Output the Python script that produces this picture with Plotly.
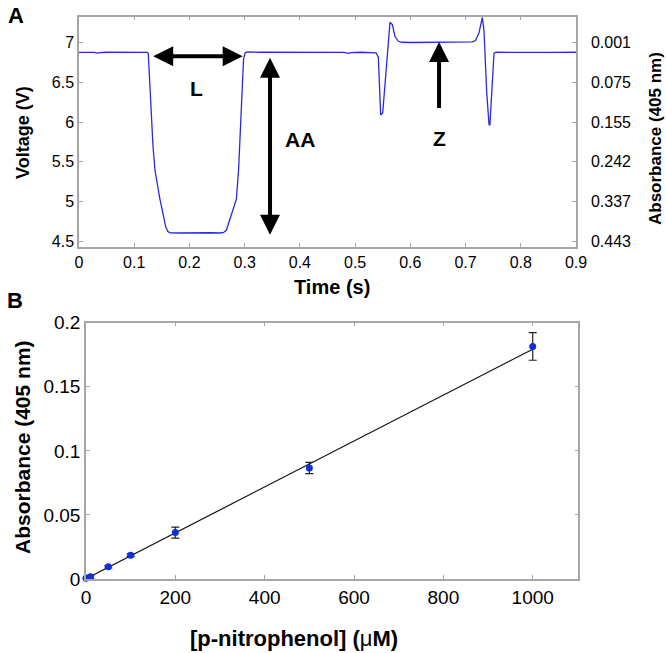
import plotly.graph_objects as go

# ---------------- Panel A data ----------------
time_s = [0.000, 0.010, 0.020, 0.028, 0.033, 0.038, 0.050, 0.070, 0.090, 0.110, 0.124,
          0.1255, 0.128, 0.131, 0.134, 0.1375, 0.141, 0.146, 0.152, 0.157, 0.161, 0.165,
          0.180, 0.200, 0.220, 0.240, 0.255, 0.262, 0.267, 0.273, 0.279, 0.285, 0.289,
          0.292, 0.295, 0.298, 0.301, 0.305, 0.330, 0.360, 0.390, 0.420, 0.450, 0.480,
          0.487, 0.493, 0.510, 0.530, 0.538, 0.542, 0.5463, 0.550, 0.553, 0.557, 0.560,
          0.5632, 0.5674, 0.5722, 0.5783, 0.585, 0.600, 0.620, 0.640, 0.660, 0.680, 0.700,
          0.712, 0.718, 0.724, 0.7304, 0.7334, 0.7383, 0.7425, 0.7440, 0.7473, 0.7515,
          0.755, 0.780, 0.800, 0.830, 0.860, 0.900]
voltage_v = [6.880, 6.883, 6.882, 6.880, 6.870, 6.878, 6.882, 6.881, 6.883, 6.882, 6.880,
             6.860, 6.500, 6.000, 5.700, 5.400, 5.250, 5.050, 4.850, 4.680, 4.620, 4.605,
             4.603, 4.607, 4.604, 4.606, 4.603, 4.610, 4.640, 4.780, 4.900, 5.030, 5.400,
             5.900, 6.400, 6.800, 6.875, 6.885, 6.882, 6.880, 6.883, 6.881, 6.882, 6.880,
             6.868, 6.878, 6.882, 6.880, 6.875, 6.820, 6.090, 6.120, 6.400, 6.700, 7.050,
             7.260, 7.230, 7.080, 7.020, 7.008, 7.005, 7.006, 7.004, 7.007, 7.005, 7.008,
             7.012, 7.030, 7.120, 7.320, 7.150, 6.370, 5.970, 5.960, 6.410, 6.870,
             6.882, 6.880, 6.883, 6.881, 6.880, 6.882]

voltage_ticks = [4.5, 5, 5.5, 6, 6.5, 7]
absorbance_tick_labels = ["0.443", "0.337", "0.242", "0.155", "0.075", "0.001"]

# ---------------- Panel B data ----------------
conc_uM = [0, 10, 50, 100, 200, 500, 1000]
absorb = [0.0005, 0.0018, 0.0095, 0.0185, 0.0362, 0.0866, 0.1815]
absorb_err = [0.0012, 0.0012, 0.0009, 0.0011, 0.0043, 0.0044, 0.0108]
fit_x = [0, 1000]
fit_y = [0.0002, 0.1793]

FONT = "Arial, Liberation Sans, sans-serif"
AXC = "#a6a6a6"

fig = go.Figure()

fig.add_trace(go.Scatter(x=time_s, y=voltage_v, mode="lines",
                         line=dict(color="#2a2ad8", width=1.3),
                         xaxis="x", yaxis="y", showlegend=False))
# invisible trace to anchor the right (absorbance) axis
fig.add_trace(go.Scatter(x=[time_s[0]], y=[voltage_v[0]], mode="markers",
                         marker=dict(opacity=0), xaxis="x", yaxis="y3",
                         showlegend=False, hoverinfo="skip"))

fig.add_trace(go.Scatter(x=fit_x, y=fit_y, mode="lines",
                         line=dict(color="#111111", width=1.2),
                         xaxis="x2", yaxis="y2", showlegend=False))
fig.add_trace(go.Scatter(x=conc_uM, y=absorb, mode="markers",
                         marker=dict(color="#1030d8", size=7),
                         error_y=dict(type="data", array=absorb_err, visible=True,
                                      color="#222222", thickness=1.2, width=4),
                         xaxis="x2", yaxis="y2", showlegend=False, cliponaxis=False))

common = dict(showgrid=False, zeroline=False, showline=True, linecolor=AXC, linewidth=1.5,
              ticks="inside", ticklen=4, tickcolor=AXC, tickwidth=1, automargin=False,
              tickfont=dict(family=FONT, size=16, color="#000000"))
big = {**common, "tickfont": dict(family=FONT, size=19, color="#000000")}

fig.update_layout(
    width=666, height=653, autosize=False,
    margin=dict(l=0, r=0, t=0, b=0, pad=0),
    paper_bgcolor="white", plot_bgcolor="white",
    xaxis=dict(domain=[0.1186, 0.8649], anchor="y", range=[0, 0.9], dtick=0.1, tick0=0,
               mirror="ticks", **common),
    yaxis=dict(domain=[0.6222, 0.9744], anchor="x", range=[4.43, 7.33],
               tickvals=voltage_ticks, mirror=True, **common),
    yaxis3=dict(overlaying="y", side="right", anchor="x", range=[4.43, 7.33],
                tickvals=voltage_ticks, ticktext=absorbance_tick_labels,
                ticklabelstandoff=10, **common),
    xaxis2=dict(domain=[0.1291, 0.8683], anchor="y2", range=[0, 1102], dtick=200, tick0=0,
                mirror="ticks", **big),
    yaxis2=dict(domain=[0.1133, 0.5058], anchor="x2", range=[0, 0.2], dtick=0.05, tick0=0,
                mirror="ticks", **big),
)

ann = []
def txt(x, y, s, size, rot=0, xref="paper", yref="paper"):
    ann.append(dict(x=x, y=y, xref=xref, yref=yref, text=s, showarrow=False,
                    textangle=rot, xanchor="center", yanchor="middle",
                    font=dict(family=FONT, size=size, color="#000000", weight="bold")))

W, H = 666.0, 653.0
txt(16 / W, 1 - 15 / H, "A", 22)
txt(15 / W, 1 - 300 / H, "B", 22)
txt(332 / W, 1 - 287 / H, "Time (s)", 20)
txt(23 / W, 1 - 133 / H, "Voltage (V)", 18, rot=-90)
txt(655 / W, 1 - 139 / H, "Absorbance (405 nm)", 17, rot=-90)
txt(294 / W, 1 - 638 / H, "[p-nitrophenol] (<span style='font-weight:normal'>μ</span>M)", 22)
txt(22 / W, 1 - 447 / H, "Absorbance (405 nm)", 21, rot=-90)

# in-plot labels (data coordinates)
txt(0.213, 6.43, "L", 21, xref="x", yref="y")
txt(0.400, 5.78, "AA", 21, xref="x", yref="y")
txt(0.652, 5.79, "Z", 21, xref="x", yref="y")

def arrow(x, y, ax, ay, double=False):
    ann.append(dict(x=x, y=y, ax=ax, ay=ay, xref="x", yref="y", axref="x", ayref="y",
                    showarrow=True, text="", arrowhead=2, arrowsize=1.0, arrowwidth=4,
                    arrowcolor="#000000", arrowside="end+start" if double else "end",
                    startarrowhead=2, startarrowsize=1.0))

arrow(0.2964, 6.83, 0.1316, 6.83, double=True)
arrow(0.3459, 4.58, 0.3459, 6.83, double=True)
arrow(0.652, 7.01, 0.652, 6.16)

fig.update_layout(annotations=ann)
fig.write_html("out.html", config={"displayModeBar": False},
               post_script="document.body.style.margin='0';document.body.style.padding='0';")
